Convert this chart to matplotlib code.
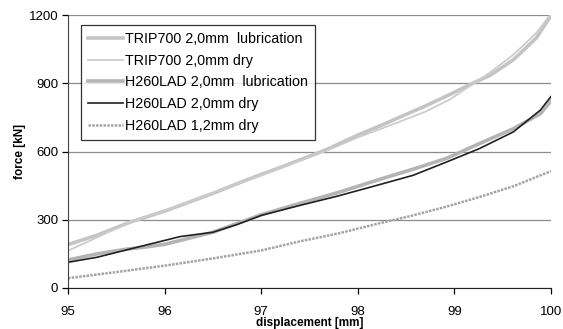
import numpy as np
import matplotlib.pyplot as plt

plt.rcParams["font.family"] = ["Liberation Sans", "DejaVu Sans"]

# displacement [mm] -> force [kN]
trip_lub_x = [95, 95.3, 95.64, 96, 96.5, 96.88, 97.2, 97.68, 98, 98.26, 98.44, 98.7, 98.95,
              99.19, 99.37, 99.61, 99.85, 100]
trip_lub_y = [191, 232, 289, 338, 416, 480, 530, 609, 672, 718, 752, 800, 850,
              900, 935, 1003, 1100, 1198]

trip_dry_x = [95, 95.3, 95.64, 96, 96.5, 96.88, 97.2, 97.68, 98, 98.26, 98.44, 98.7, 98.95,
              99.19, 99.37, 99.61, 99.85, 100]
trip_dry_y = [164, 222, 289, 340, 418, 478, 528, 604, 662, 703, 732, 775, 828,
              896, 948, 1025, 1122, 1205]

h260_lub_x = [95, 95.3, 95.61, 95.8, 96, 96.16, 96.5, 97, 97.4, 97.8, 98.23, 98.57,
              98.92, 99.26, 99.61, 99.89, 100]
h260_lub_y = [123, 150, 171, 180, 192, 209, 245, 322, 372, 420, 478, 522,
              570, 635, 700, 766, 822]

h260_dry_x = [95, 95.3, 95.61, 95.8, 96, 96.16, 96.5, 96.75, 97, 97.4, 97.8, 98.23,
              98.57, 98.92, 99.26, 99.61, 99.89, 100]
h260_dry_y = [113, 135, 168, 188, 209, 226, 245, 279, 319, 363, 405, 455,
              495, 554, 613, 686, 782, 842]

h260_12_x = [95, 95.5, 96, 96.5, 97, 97.4, 97.8, 98.23, 98.57, 98.92, 99.26, 99.61, 100]
h260_12_y = [43, 70, 98, 130, 165, 205, 240, 285, 319, 358, 400, 447, 514]

fig = plt.figure(figsize=(5.63, 3.29), dpi=100)
ax = fig.add_axes([68 / 563, 1 - 288 / 329, (551 - 68) / 563, (288 - 15) / 329])

ax.plot(trip_lub_x, trip_lub_y, color="#c4c4c4", lw=2.6, label="TRIP700 2,0mm  lubrication")
ax.plot(trip_dry_x, trip_dry_y, color="#cccccc", lw=1.3, label="TRIP700 2,0mm dry")
ax.plot(h260_lub_x, h260_lub_y, color="#b4b4b4", lw=2.6, label="H260LAD 2,0mm  lubrication")
ax.plot(h260_dry_x, h260_dry_y, color="#202020", lw=1.2, label="H260LAD 2,0mm dry")
ax.plot(h260_12_x, h260_12_y, color="#a4a4a4", lw=1.8, ls=(0, (1, 0.5)),
        label="H260LAD 1,2mm dry")

ax.set_xlim(95, 100)
ax.set_ylim(0, 1200)
ax.set_xticks([95, 96, 97, 98, 99, 100])
ax.set_yticks([0, 300, 600, 900, 1200])
ax.grid(axis="y", color="#8c8c8c", lw=0.9)
ax.set_axisbelow(True)
for s in ["top", "right"]:
    ax.spines[s].set_visible(False)
ax.spines["left"].set_color("#404040")
ax.spines["bottom"].set_color("#202020")
ax.tick_params(direction="out", length=4, width=0.9, labelsize=9.5, pad=9)
ax.tick_params(axis="y", pad=3)

ax.set_xlabel("displacement [mm]", fontsize=8.5, fontweight="bold", labelpad=-1)
ax.set_ylabel("force [kN]", fontsize=8.5, fontweight="bold", labelpad=2)

leg = ax.legend(loc="upper left", bbox_to_anchor=(0.027, 0.965), fontsize=10.3,
                frameon=True, fancybox=False, handlelength=2.4, handletextpad=0.15,
                labelspacing=0.55, borderpad=0.5, borderaxespad=0)
leg.get_frame().set_edgecolor("#000000")
leg.get_frame().set_linewidth(0.9)

fig.savefig("out.png", dpi=100)
